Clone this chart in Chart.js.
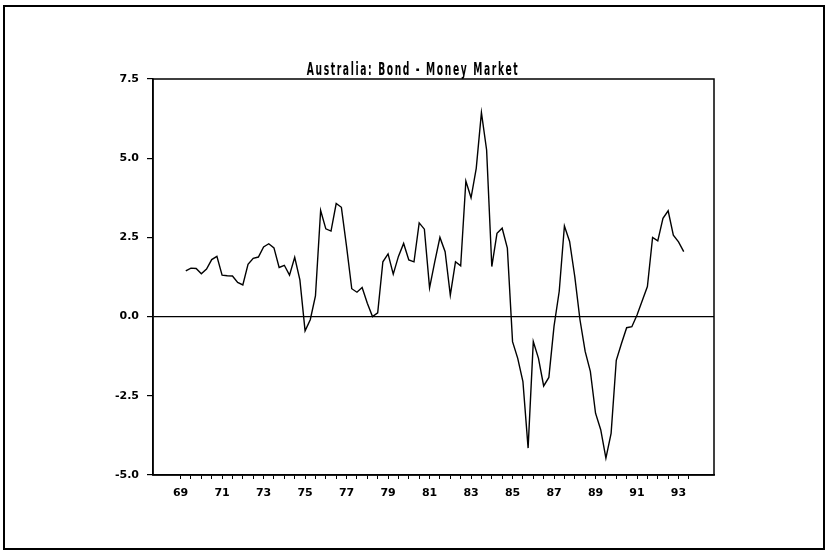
<!DOCTYPE html>
<html>
<head>
<meta charset="utf-8">
<script src="https://cdn.jsdelivr.net/npm/chart.js@4/dist/chart.umd.min.js"></script>
<style>
  html, body { margin: 0; padding: 0; background: #fff; }
  #wrap { width: 827px; height: 552px; }
</style>
</head>
<body>
<div id="wrap"><canvas id="spread-chart" width="827" height="552"></canvas></div>
<script>
const TITLE = "Australia: Bond - Money Market";

// quarterly observations, 1969 Q2 .. 1993 Q2
const FIRST_QUARTER = 1969.25;
const spread = [
  1.44, 1.53, 1.52, 1.35, 1.50, 1.80, 1.90, 1.31, 1.29, 1.28,
  1.08, 1.00, 1.65, 1.84, 1.88, 2.20, 2.30, 2.17, 1.55, 1.62,
  1.31, 1.87, 1.16, -0.45, -0.10, 0.65, 3.35, 2.77, 2.70, 3.57,
  3.45, 2.21, 0.88, 0.77, 0.92, 0.42, 0.00, 0.12, 1.73, 1.98,
  1.34, 1.90, 2.31, 1.79, 1.73, 2.96, 2.76, 0.91, 1.73, 2.50,
  2.05, 0.68, 1.73, 1.60, 4.28, 3.75, 4.68, 6.44, 5.26, 1.58,
  2.63, 2.79, 2.16, -0.79, -1.32, -2.05, -4.15, -0.79, -1.32, -2.19,
  -1.92, -0.30, 0.80, 2.86, 2.37, 1.26, -0.10, -1.10, -1.73, -3.05,
  -3.57, -4.47, -3.69, -1.38, -0.85, -0.35, -0.32, 0.05, 0.50, 0.95,
  2.50, 2.39, 3.10, 3.34, 2.57, 2.36, 2.05
];

const yearLabels = ["69", "71", "73", "75", "77", "79", "81", "83", "85", "87", "89", "91", "93"];
const yTicks = [-5.0, -2.5, 0.0, 2.5, 5.0, 7.5];

const points = spread.map((v, i) => ({ x: FIRST_QUARTER + i * 0.25, y: v }));

// page frame, plot box and the narrow spaced-out heading
const frame = {
  id: "frame",
  beforeDraw(chart) {
    const { ctx, width, height } = chart;
    ctx.save();
    ctx.fillStyle = "#fff";
    ctx.fillRect(0, 0, width, height);
    ctx.strokeStyle = "#000";
    ctx.lineWidth = 2;
    ctx.strokeRect(4, 6, 820, 543);
    ctx.restore();
  },
  afterDraw(chart) {
    const { ctx, chartArea: a } = chart;
    ctx.save();
    ctx.strokeStyle = "#000";
    ctx.lineWidth = 1.5;
    ctx.strokeRect(a.left, a.top, a.right - a.left, a.bottom - a.top);

    ctx.font = "bold 17px 'DejaVu Sans', sans-serif";
    ctx.letterSpacing = "3px";
    ctx.fillStyle = "#000";
    ctx.textAlign = "center";
    ctx.textBaseline = "alphabetic";
    ctx.translate(413, 75);
    ctx.scale(0.54, 1);
    ctx.fillText(TITLE, 0, 0);
    ctx.restore();
  }
};

const tickFont = { family: "'DejaVu Sans', sans-serif", size: 11, weight: "bold" };

new Chart(document.getElementById("spread-chart"), {
  type: "line",
  data: {
    datasets: [{
      data: points,
      borderColor: "#000",
      borderWidth: 1.4,
      pointRadius: 0,
      tension: 0,
      fill: false
    }]
  },
  options: {
    responsive: false,
    animation: false,
    devicePixelRatio: 1,
    layout: { padding: { top: 79, left: 0, right: 113, bottom: 0 } },
    plugins: {
      legend: { display: false },
      tooltip: { enabled: false },
      title: { display: false }
    },
    scales: {
      x: {
        type: "linear",
        min: 1967.67,
        max: 1994.71,
        afterFit: (s) => { s.height = 77; },
        afterBuildTicks: (s) => {
          const ticks = [];
          for (let t = 1969; t <= 1993.5; t += 0.5) ticks.push({ value: t });
          s.ticks = ticks;
        },
        border: { color: "#000", width: 1.5 },
        grid: { drawOnChartArea: false, color: "#000", tickLength: 4, lineWidth: 1 },
        ticks: {
          color: "#000",
          font: tickFont,
          padding: 8,
          maxRotation: 0,
          autoSkip: false,
          callback: (v) => {
            const lab = String(v % 100);
            return Number.isInteger(v) && yearLabels.includes(lab) ? lab : "";
          }
        }
      },
      y: {
        min: -5,
        max: 7.5,
        afterFit: (s) => { s.width = 153; },
        afterBuildTicks: (s) => { s.ticks = yTicks.map((v) => ({ value: v })); },
        border: { color: "#000", width: 1.5 },
        grid: {
          drawOnChartArea: true,
          color: (c) => (c.tick && c.tick.value === 0 ? "#000" : "rgba(0,0,0,0)"),
          tickColor: "#000",
          tickLength: 6,
          lineWidth: 1.2
        },
        ticks: {
          color: "#000",
          font: tickFont,
          padding: 8,
          callback: (v) => v.toFixed(1)
        }
      }
    }
  },
  plugins: [frame]
});
</script>
</body>
</html>
